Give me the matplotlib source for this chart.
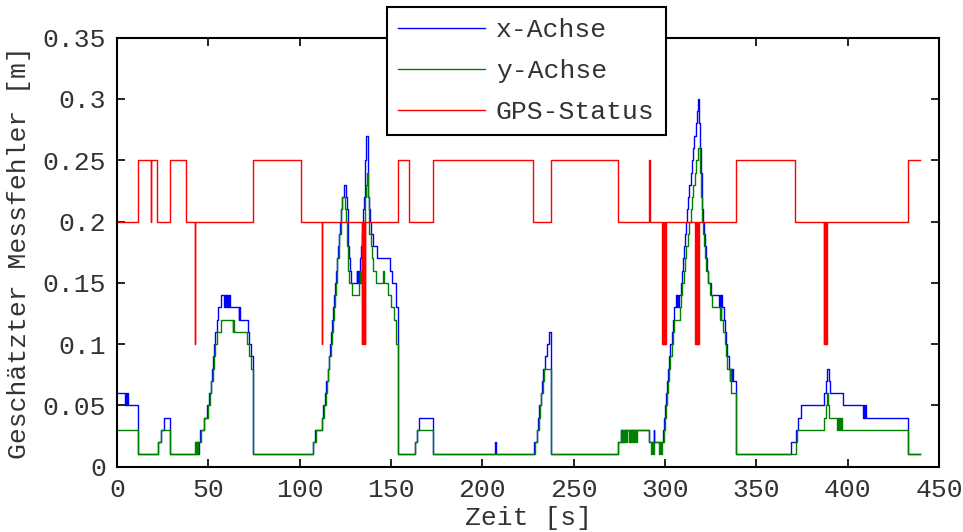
import matplotlib
matplotlib.use("Agg")
import matplotlib.pyplot as plt
from matplotlib.ticker import FixedLocator, FuncFormatter

# --- data: change points (time [s], value [m]) of the step signals ---------
x_t = [0, 4.4, 4.8, 5.2, 5.6, 6.0, 11.4, 22.6, 23.9, 25.7, 29.2,
       43.2, 43.6, 44.0, 44.4, 44.8, 45.4, 47.6, 49.2, 50.6, 51.4, 52.0, 52.5,
       53.1, 53.6, 54.5, 55.5, 56.9, 58.6, 59.0, 59.4, 59.8, 60.2, 60.6, 61.0,
       61.4, 61.9, 66.7, 67.0, 67.3, 71.5, 72.4, 73.1, 74.7,
       107.1, 108.4, 112.0, 113.0, 113.9, 114.4, 115.3, 116.0, 116.6, 117.3,
       117.9, 118.4, 119.0, 119.5, 119.9, 120.4, 121.0, 121.5, 122.1, 122.6,
       123.2, 124.4, 125.4, 125.8, 126.2, 126.6, 127.0, 127.4, 128.0, 131.2,
       131.6, 132.0, 132.4, 132.8, 133.2, 133.6, 134.0, 134.4, 134.8, 135.2,
       135.6, 136.0, 136.5, 137.2, 137.6, 138.0, 138.6, 139.2, 140.2, 142.2,
       149.5, 150.7, 152.7, 154.0,
       163.1, 164.0, 165.3, 173.0, 206.7, 207.3,
       228.5, 229.7, 230.6, 231.2, 231.9, 232.7, 233.4, 234.3, 235.2, 236.3,
       237.4,
       274.5, 275.8, 276.3, 276.7, 277.1, 277.5, 291.5, 293.8, 294.2,
       299.1, 299.6, 300.2, 300.8, 301.3, 301.8, 302.4, 303.0, 303.6, 304.3,
       304.9, 306.2, 306.5, 306.8, 307.1, 307.4, 308.6, 309.3, 309.9, 310.5,
       311.0, 311.6, 312.2, 312.8, 313.4, 314.0, 314.6, 315.3, 316.0, 316.7,
       317.4, 318.1, 318.8, 319.2, 319.6, 320.0, 320.4, 320.9, 321.4, 321.9,
       322.4, 323.0, 323.8, 325.2, 329.6, 330.0, 330.4, 330.8, 331.2, 332.3,
       332.8, 333.4, 334.1, 335.0, 336.6, 336.9, 337.3, 338.8,
       368.8, 371.7, 372.8, 374.3, 387.2, 388.4, 388.9, 389.6, 390.3, 397.3,
       408.6, 408.9, 409.2, 409.5, 409.8, 432.9, 439.6]
x_v = [0.06, 0.05, 0.06, 0.05, 0.06, 0.05, 0.01, 0.02, 0.03, 0.04, 0.01,
       0.02, 0.01, 0.02, 0.01, 0.02, 0.03, 0.04, 0.05, 0.06, 0.07, 0.08, 0.09,
       0.10, 0.11, 0.12, 0.13, 0.14, 0.13, 0.14, 0.13, 0.14, 0.13, 0.14, 0.13,
       0.14, 0.13, 0.12, 0.13, 0.12, 0.11, 0.10, 0.09, 0.01,
       0.02, 0.03, 0.04, 0.05, 0.06, 0.07, 0.08, 0.09, 0.10, 0.11,
       0.12, 0.13, 0.14, 0.15, 0.16, 0.17, 0.18, 0.19, 0.20, 0.21,
       0.22, 0.23, 0.22, 0.21, 0.19, 0.18, 0.17, 0.16, 0.15, 0.16,
       0.15, 0.16, 0.15, 0.16, 0.17, 0.18, 0.19, 0.20, 0.21, 0.22,
       0.24, 0.25, 0.27, 0.24, 0.22, 0.21, 0.20, 0.19, 0.18, 0.17,
       0.16, 0.15, 0.13, 0.01,
       0.02, 0.03, 0.04, 0.01, 0.02, 0.01,
       0.02, 0.03, 0.04, 0.05, 0.06, 0.07, 0.08, 0.09, 0.10, 0.11,
       0.01,
       0.02, 0.03, 0.02, 0.03, 0.02, 0.03, 0.02, 0.03, 0.02,
       0.03, 0.04, 0.05, 0.06, 0.07, 0.08, 0.09, 0.10, 0.11, 0.12,
       0.13, 0.14, 0.13, 0.14, 0.13, 0.14, 0.15, 0.16, 0.17, 0.18,
       0.19, 0.20, 0.21, 0.22, 0.23, 0.24, 0.25, 0.26, 0.27, 0.28,
       0.29, 0.30, 0.28, 0.26, 0.24, 0.22, 0.21, 0.20, 0.19, 0.18,
       0.17, 0.16, 0.15, 0.14, 0.13, 0.14, 0.13, 0.14, 0.13, 0.12,
       0.11, 0.10, 0.09, 0.08, 0.07, 0.08, 0.07, 0.01,
       0.02, 0.03, 0.04, 0.05, 0.06, 0.07, 0.08, 0.07, 0.06, 0.05,
       0.04, 0.05, 0.04, 0.05, 0.04, 0.01, 0.01]

y_t = [0, 11.4, 22.6, 24.1, 29.2,
       42.9, 43.3, 43.7, 44.1, 44.5, 46.0, 47.8, 49.6, 50.8, 51.6, 52.4, 53.0,
       53.8, 54.8, 56.9, 63.3, 63.6, 63.9, 71.0, 72.5, 73.3, 74.7,
       107.4, 108.8, 112.4, 113.3, 114.2, 114.8, 115.6, 116.3, 117.0, 117.6,
       118.2, 118.7, 119.3, 119.8, 120.2, 120.7, 121.3, 121.8, 122.4, 122.9,
       123.4, 125.0, 125.4, 125.8, 126.3, 126.7, 127.2, 128.6, 132.6, 133.0,
       133.3, 133.6, 134.0, 134.4, 134.8, 135.2, 135.6, 136.0, 136.4, 136.7,
       137.3, 137.7, 138.2, 138.8, 139.4, 140.2, 141.6, 145.8, 146.4, 148.6,
       150.2, 151.6, 152.7, 153.8,
       163.1, 164.4, 173.0,
       228.8, 230.1, 231.0, 231.6, 232.3, 233.1, 234.0, 237.5,
       274.5, 275.9, 276.3, 276.7, 277.1, 277.5, 277.9, 278.3, 278.7, 279.1,
       280.2, 280.6, 281.0, 281.4, 281.8, 282.2, 282.6, 283.0, 283.4, 283.8,
       284.2, 284.6, 291.5, 292.4, 292.8, 293.4, 293.8, 296.8, 297.2, 297.7,
       298.1,
       299.5, 300.0, 300.6, 301.2, 301.8, 302.4, 303.0, 303.6, 304.2, 304.9,
       308.0, 308.8, 309.5, 310.2, 311.0, 311.7, 312.4, 313.2, 314.0, 314.7,
       315.5, 316.3, 317.1, 317.9, 319.2, 319.6, 320.0, 320.5, 321.0, 321.5,
       322.1, 322.7, 323.5, 324.5, 325.6, 330.3, 330.6, 330.9, 332.0, 332.6,
       333.3, 334.0, 335.4, 335.7, 336.0, 336.4, 338.8,
       371.5, 372.3, 387.2, 388.0, 388.5, 389.2, 389.6, 394.3, 394.7, 395.1,
       395.5, 395.9, 396.3, 396.7, 432.9, 439.6]
y_v = [0.03, 0.01, 0.02, 0.03, 0.01,
       0.02, 0.01, 0.02, 0.01, 0.02, 0.03, 0.04, 0.05, 0.06, 0.07, 0.08, 0.09,
       0.10, 0.11, 0.12, 0.11, 0.12, 0.11, 0.10, 0.09, 0.08, 0.01,
       0.02, 0.03, 0.04, 0.05, 0.06, 0.07, 0.08, 0.09, 0.10, 0.11,
       0.12, 0.13, 0.14, 0.15, 0.16, 0.17, 0.18, 0.19, 0.20, 0.21,
       0.22, 0.21, 0.20, 0.18, 0.17, 0.16, 0.15, 0.14, 0.15, 0.16,
       0.15, 0.16, 0.17, 0.18, 0.19, 0.20, 0.21, 0.22, 0.23, 0.24,
       0.22, 0.20, 0.19, 0.18, 0.17, 0.16, 0.15, 0.16, 0.15, 0.14,
       0.13, 0.12, 0.10, 0.01,
       0.02, 0.03, 0.01,
       0.02, 0.03, 0.04, 0.05, 0.06, 0.07, 0.08, 0.01,
       0.02, 0.03, 0.02, 0.03, 0.02, 0.03, 0.02, 0.03, 0.02, 0.03,
       0.02, 0.03, 0.02, 0.03, 0.02, 0.03, 0.02, 0.03, 0.02, 0.03,
       0.02, 0.03, 0.02, 0.01, 0.02, 0.01, 0.02, 0.01, 0.02, 0.01,
       0.02,
       0.03, 0.04, 0.05, 0.06, 0.07, 0.08, 0.09, 0.10, 0.11, 0.12,
       0.13, 0.14, 0.15, 0.16, 0.17, 0.18, 0.19, 0.20, 0.21, 0.22,
       0.23, 0.24, 0.25, 0.26, 0.24, 0.22, 0.21, 0.20, 0.19, 0.18,
       0.17, 0.16, 0.15, 0.14, 0.13, 0.12, 0.13, 0.12, 0.11, 0.10,
       0.09, 0.08, 0.07, 0.08, 0.07, 0.06, 0.01,
       0.02, 0.03, 0.04, 0.05, 0.06, 0.05, 0.04, 0.03, 0.04, 0.03,
       0.04, 0.03, 0.04, 0.03, 0.01, 0.01]

gps_t = [0, 11.3, 18.4, 18.8, 21.7, 29.0, 37.6, 42.6, 42.9, 74.6, 101.0,
         112.0, 112.3,
         133.9, 134.2, 134.5, 134.8, 135.1, 135.4, 135.7, 136.0,
         153.6, 160.0, 173.2, 228.0, 237.4, 274.0, 291.4, 291.7,
         298.4, 298.7, 299.0, 299.3, 299.6, 299.9, 300.2, 300.5,
         316.4, 316.7, 317.0, 317.3, 317.6, 317.9, 318.2, 318.5,
         338.9, 371.0,
         387.0, 387.3, 387.6, 387.9, 388.2, 388.5,
         432.9, 439.6]
gps_v = [0.20, 0.25, 0.20, 0.25, 0.20, 0.25, 0.20, 0.10, 0.20, 0.25, 0.20,
         0.10, 0.20,
         0.10, 0.20, 0.10, 0.20, 0.10, 0.20, 0.10, 0.20,
         0.25, 0.20, 0.25, 0.20, 0.25, 0.20, 0.25, 0.20,
         0.10, 0.20, 0.10, 0.20, 0.10, 0.20, 0.10, 0.20,
         0.10, 0.20, 0.10, 0.20, 0.10, 0.20, 0.10, 0.20,
         0.25, 0.20,
         0.10, 0.20, 0.10, 0.20, 0.10, 0.20,
         0.25, 0.25]

series_labels = ["x-Achse", "y-Achse", "GPS-Status"]
x_ticks = [0, 50, 100, 150, 200, 250, 300, 350, 400, 450]
y_ticks = [0, 0.05, 0.1, 0.15, 0.2, 0.25, 0.3, 0.35]
x_label = "Zeit [s]"
y_label = "Geschätzter Messfehler [m]"

# --- figure -----------------------------------------------------------------
FONT = ["Liberation Mono", "DejaVu Sans Mono"]
FS = 19
TXT = "#333333"
plt.rcParams["font.family"] = FONT

W, H = 963, 532
fig = plt.figure(figsize=(W / 100, H / 100), dpi=100)
ax = fig.add_axes([117 / W, 1 - 466.7 / H, (939 - 117) / W, (466.7 - 37.7) / H])

lw = 1.0
ax.plot(x_t, x_v, drawstyle="steps-post", color=(0, 0, 1), lw=lw,
        label=series_labels[0])
ax.plot(y_t, y_v, drawstyle="steps-post", color=(0, 0.5, 0), lw=lw,
        label=series_labels[1])
ax.plot(gps_t, gps_v, drawstyle="steps-post", color=(1, 0, 0), lw=lw,
        label=series_labels[2])

ax.set_xlim(0, 450)
ax.set_ylim(0, 0.35)
ax.xaxis.set_major_locator(FixedLocator(x_ticks))
ax.yaxis.set_major_locator(FixedLocator(y_ticks))
ax.yaxis.set_major_formatter(FuncFormatter(lambda v, p: "%g" % v))
ax.xaxis.set_major_formatter(FuncFormatter(lambda v, p: "%g" % v))

for s in ax.spines.values():
    s.set_linewidth(1.5)
    s.set_color("black")
ax.tick_params(direction="in", length=6, width=1.2, top=True, right=True,
               labelsize=FS, labelcolor=TXT, pad=8)

ax.set_xlabel(x_label, fontsize=FS, color=TXT, labelpad=3)
ax.set_ylabel(y_label, fontsize=FS, color=TXT, labelpad=8)

leg = ax.legend(loc="upper left", bbox_to_anchor=(387 / W, 1 - 7 / H),
                bbox_transform=fig.transFigure, borderaxespad=0,
                fontsize=FS, fancybox=False, framealpha=1, edgecolor="black",
                handlelength=3.3, handletextpad=0.4, labelspacing=0.64,
                borderpad=0.42)
leg.get_frame().set_linewidth(1.5)
for t in leg.get_texts():
    t.set_color(TXT)

fig.savefig("out.png", dpi=100)
